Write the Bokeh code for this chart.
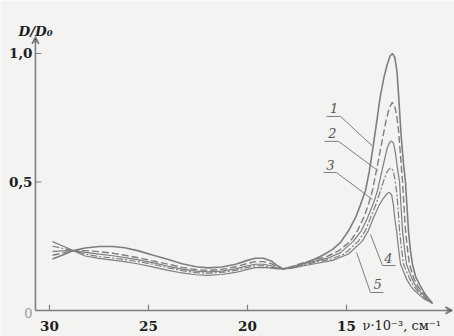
from bokeh.plotting import figure
from bokeh.models import Range1d, Arrow, VeeHead
from bokeh.core.properties import value
from bokeh.embed import file_html
from bokeh.resources import INLINE

# ---------------- data ----------------
nu1 = [29.85, 29.3, 28.8, 28.2, 27.5, 26.8, 26.2, 25.5, 24.8, 24.0, 23.3, 22.6, 22.0, 21.3, 20.6, 20.0, 19.6, 19.2,
       18.8, 18.5, 18.2, 17.8, 17.2, 16.6, 16.2, 15.7, 15.3, 14.9, 14.55, 14.3, 14.04, 13.85, 13.69, 13.5, 13.3, 13.1,
       12.95, 12.8, 12.68, 12.56, 12.45, 12.37, 12.25, 12.12, 12.02, 11.95, 11.87, 11.78, 11.67, 11.5, 11.3, 11.16,
       10.95, 10.66]
d1 = [0.200, 0.217, 0.233, 0.243, 0.249, 0.249, 0.244, 0.232, 0.216, 0.198, 0.182, 0.170, 0.166, 0.169, 0.180, 0.195,
      0.203, 0.203, 0.193, 0.175, 0.162, 0.168, 0.182, 0.200, 0.215, 0.238, 0.265, 0.310, 0.360, 0.410, 0.467, 0.540,
      0.620, 0.720, 0.830, 0.910, 0.955, 0.990, 1.000, 0.985, 0.930, 0.840, 0.690, 0.570, 0.500, 0.410, 0.310, 0.240,
      0.180, 0.130, 0.100, 0.080, 0.055, 0.028]

nu2 = [29.85, 29.3, 28.8, 28.2, 27.5, 26.8, 26.2, 25.5, 24.8, 24.0, 23.3, 22.6, 22.0, 21.3, 20.6, 20.0, 19.6, 19.2,
       18.8, 18.5, 18.2, 17.8, 17.2, 16.6, 16.0, 15.4, 14.8, 14.45, 14.14, 13.9, 13.69, 13.5, 13.3, 13.15, 13.0, 12.85,
       12.69, 12.56, 12.45, 12.37, 12.27, 12.17, 12.1, 12.02, 11.92, 11.82, 11.6, 11.4, 11.26, 10.95, 10.66]
d2 = [0.215, 0.224, 0.233, 0.233, 0.229, 0.223, 0.215, 0.205, 0.193, 0.180, 0.168, 0.159, 0.156, 0.160, 0.170, 0.183,
      0.190, 0.190, 0.182, 0.170, 0.162, 0.170, 0.185, 0.197, 0.210, 0.232, 0.270, 0.310, 0.360, 0.410, 0.467, 0.540,
      0.620, 0.680, 0.740, 0.785, 0.810, 0.795, 0.750, 0.700, 0.600, 0.500, 0.410, 0.310, 0.240, 0.180, 0.125, 0.095,
      0.080, 0.052, 0.028]

nu3 = [29.85, 29.3, 28.8, 28.2, 27.5, 26.8, 26.2, 25.5, 24.8, 24.0, 23.3, 22.6, 22.0, 21.3, 20.6, 20.0, 19.6, 19.2,
       18.8, 18.5, 18.2, 17.8, 17.2, 16.6, 15.9, 15.3, 14.65, 14.25, 13.94, 13.65, 13.43, 13.25, 13.1, 12.95, 12.83,
       12.73, 12.62, 12.52, 12.44, 12.32, 12.25, 12.17, 12.07, 11.97, 11.7, 11.5, 11.36, 11.0, 10.66]
d3 = [0.230, 0.232, 0.233, 0.226, 0.219, 0.213, 0.206, 0.197, 0.186, 0.172, 0.161, 0.153, 0.150, 0.153, 0.162, 0.174,
      0.180, 0.180, 0.174, 0.166, 0.162, 0.168, 0.181, 0.192, 0.205, 0.225, 0.270, 0.310, 0.360, 0.415, 0.467, 0.530,
      0.580, 0.630, 0.653, 0.660, 0.650, 0.610, 0.560, 0.500, 0.410, 0.310, 0.240, 0.180, 0.125, 0.095, 0.080, 0.050,
      0.028]

nu4 = [29.85, 29.3, 28.8, 28.2, 27.5, 26.8, 26.2, 25.5, 24.8, 24.0, 23.3, 22.6, 22.0, 21.3, 20.6, 20.0, 19.6, 19.2,
       18.8, 18.5, 18.2, 17.8, 17.2, 16.6, 15.8, 15.1, 14.4, 14.05, 13.79, 13.5, 13.28, 13.1, 12.95, 12.78, 12.65,
       12.55, 12.45, 12.38, 12.32, 12.22, 12.12, 11.8, 11.6, 11.46, 11.05, 10.66]
d4 = [0.250, 0.241, 0.233, 0.219, 0.210, 0.204, 0.198, 0.190, 0.180, 0.166, 0.155, 0.147, 0.145, 0.148, 0.156, 0.168,
      0.174, 0.174, 0.168, 0.163, 0.162, 0.166, 0.177, 0.187, 0.200, 0.220, 0.270, 0.310, 0.360, 0.415, 0.467, 0.510,
      0.540, 0.555, 0.545, 0.510, 0.450, 0.380, 0.310, 0.240, 0.180, 0.122, 0.095, 0.080, 0.048, 0.028]

nu5 = [29.85, 29.3, 28.8, 28.2, 27.5, 26.8, 26.2, 25.5, 24.8, 24.0, 23.3, 22.6, 22.0, 21.3, 20.6, 20.0, 19.6, 19.2,
       18.8, 18.5, 18.2, 17.8, 17.2, 16.6, 15.7, 14.9, 14.2, 13.9, 13.64, 13.35, 13.15, 12.95, 12.83, 12.72, 12.63,
       12.55, 12.47, 12.37, 12.27, 11.95, 11.75, 11.6, 11.1, 10.66]
d5 = [0.268, 0.250, 0.233, 0.212, 0.203, 0.196, 0.190, 0.181, 0.170, 0.156, 0.146, 0.139, 0.137, 0.140, 0.148, 0.160,
      0.167, 0.168, 0.165, 0.162, 0.162, 0.164, 0.173, 0.182, 0.195, 0.220, 0.270, 0.310, 0.360, 0.410, 0.435, 0.455,
      0.460, 0.450, 0.410, 0.350, 0.310, 0.240, 0.180, 0.120, 0.095, 0.080, 0.046, 0.028]

curve_names = ["1", "2", "3", "4", "5"]
x_ticks = [30, 25, 20, 15]
x_tick_labels = ["30", "25", "20", "15"]
y_ticks = [1.0, 0.5]
y_tick_labels = ["1,0", "0,5"]

# label anchors: text position, underline (x0, x1, y), leader end
lab_x = [15.63, 15.71, 15.81, 12.88, 13.43]
lab_y = [0.786, 0.689, 0.568, 0.206, 0.105]
ul_x0 = [16.01, 16.11, 16.16, 13.18, 13.79]
ul_x1 = [15.30, 15.40, 15.51, 12.53, 13.13]
ul_y = [0.755, 0.658, 0.537, 0.175, 0.070]
ld_x = [13.69, 13.43, 13.69, 13.79, 14.49]
ld_y = [0.640, 0.545, 0.432, 0.296, 0.226]
lead_from_right = [True, True, True, False, False]

# ---------------- figure ----------------
INK = "#7e7e7e"
TXT = "#1e1e1e"
BG = "#f3f3f1"

p = figure(width=454, height=336, output_backend="svg", toolbar_location=None,
           x_axis_type=None, y_axis_type=None, min_border=0,
           x_range=Range1d(32.475, 9.545), y_range=Range1d(-0.1012, 1.2062))
p.grid.visible = False
p.outline_line_color = None
p.background_fill_color = BG
p.border_fill_color = BG

# axes with arrows
p.add_layout(Arrow(x_start=30.71, y_start=0.0, x_end=30.71, y_end=1.065, line_color=INK, line_width=1.6,
                   end=VeeHead(size=7, line_color=INK, line_width=1.4)))
p.add_layout(Arrow(x_start=30.71, y_start=0.0, x_end=9.65, y_end=0.0, line_color=INK, line_width=1.6,
                   end=VeeHead(size=7, line_color=INK, line_width=1.4)))

# ticks
p.segment(x0=x_ticks, y0=[0.0] * 4, x1=x_ticks, y1=[0.022] * 4, line_color=INK, line_width=1.2)
p.segment(x0=[30.71] * 2, y0=y_ticks, x1=[30.41] * 2, y1=y_ticks, line_color=INK, line_width=1.2)

# tick labels
p.text(x=x_ticks, y=[-0.062] * 4, text=x_tick_labels, text_font=value("DejaVu Serif"),
       text_font_style="bold", text_font_size="13.5px", text_align="center", text_baseline="middle",
       text_color=TXT)
p.text(x=[30.86] * 2, y=y_ticks, text=y_tick_labels, text_font=value("DejaVu Serif"),
       text_font_style="bold", text_font_size="13.5px", text_align="right", text_baseline="middle",
       text_color=TXT)
p.text(x=[30.86], y=[-0.008], text=["0"], text_font=value("DejaVu Serif"),
       text_font_size="13px", text_align="right", text_baseline="middle", text_color="#9a9a9a")

# axis titles
p.text(x=[14.19], y=[-0.060], text=["ν·10⁻³, см⁻¹"], text_font=value("DejaVu Serif"),
       text_font_size="13px", text_align="left", text_baseline="middle", text_color=TXT)
p.text(x=[31.57], y=[1.088], text=["D/D₀"], text_font=value("DejaVu Serif"),
       text_font_style="bold italic", text_font_size="13.5px", text_align="left", text_baseline="alphabetic",
       text_color=TXT)

# curves
p.line(nu5, d5, line_color=INK, line_width=1.2)
p.line(nu4, d4, line_color=INK, line_width=1.2, line_dash="7 2 2 2")
p.line(nu3, d3, line_color=INK, line_width=1.2)
p.line(nu2, d2, line_color=INK, line_width=1.4, line_dash="7 3")
p.line(nu1, d1, line_color=INK, line_width=1.6)

# curve labels with underline and leader
for i, name in enumerate(curve_names):
    if lead_from_right[i]:
        xs = [ul_x0[i], ul_x1[i], ld_x[i]]
        ys = [ul_y[i], ul_y[i], ld_y[i]]
    else:
        xs = [ul_x1[i], ul_x0[i], ld_x[i]]
        ys = [ul_y[i], ul_y[i], ld_y[i]]
    p.line(xs, ys, line_color=INK, line_width=1.0)
p.text(x=lab_x, y=lab_y, text=curve_names, text_font=value("DejaVu Serif"), text_font_style="italic",
       text_font_size="13px", text_align="center", text_baseline="middle", text_color="#555555")

open("out.html", "w").write(file_html(p, INLINE))
